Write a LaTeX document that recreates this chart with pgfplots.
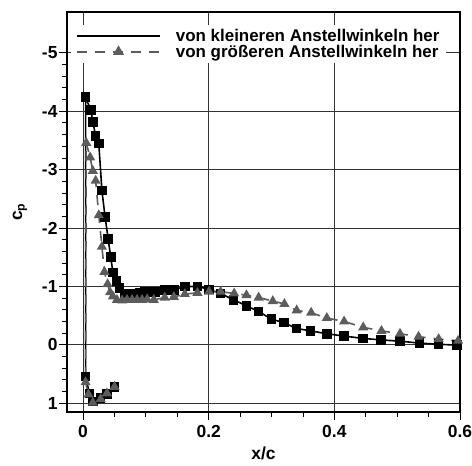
\documentclass[border=0pt]{standalone}
\usepackage{fontspec}
\setmainfont{Liberation Sans}
\usepackage{pgfplots}
\pgfplotsset{compat=1.18}
\definecolor{sergray}{HTML}{5C5C5C}
\begin{document}
\begin{tikzpicture}
\begin{axis}[
  at={(0,0)}, anchor=south west,
  scale only axis, width=393bp, height=400bp,
  xmin=-0.0256, xmax=0.6, ymin=-5.7, ymax=1.15,
  y dir=reverse,
  xtick={0,0.2,0.4,0.6}, xticklabels={0,0.2,0.4,0.6},
  ytick={-5,-4,-3,-2,-1,0,1}, yticklabels={-5,-4,-3,-2,-1,0,1},
  minor x tick num=3, minor y tick num=4,
  tick align=outside, xtick pos=bottom, ytick pos=left,
  major tick length=8bp, minor tick length=5bp,
  tick style={black, line width=0.9bp},
  grid=major, major grid style={black!80, line width=0.9bp},
  axis line style={line width=2bp},
  ticklabel style={font=\fontsize{17.5}{20}\selectfont\bfseries},
  xticklabel style={yshift=-2bp},
  yticklabel style={xshift=2bp},
  xlabel={\fontsize{17.5}{20}\selectfont\bfseries x/c},
  ylabel={\fontsize{17.5}{20}\selectfont\bfseries c\textsubscript{p}},
  xlabel style={yshift=-2bp},
  ylabel style={yshift=8bp},
  legend style={at={(0.01,0.968)}, anchor=north west, draw=none, fill=white,
    font=\fontsize{17}{20}\selectfont\bfseries, inner xsep=5bp, inner ysep=3bp,
    column sep=13bp, nodes={inner ysep=1bp}},
  legend cell align=left,
  legend image code/.code={%
    \draw[mark repeat=2,mark phase=2,#1] plot coordinates {(0bp,0bp) (41.5bp,0bp) (83bp,0bp)};},
]
\addlegendimage{black, line width=1.8bp}
\addlegendentry{von kleineren Anstellwinkeln her}
\addlegendimage{sergray, line width=1.8bp, dash pattern={on 10bp off 8bp}, mark=triangle*, mark size=4.5bp, mark options={solid}}
\addlegendentry{von größeren Anstellwinkeln her}
\addplot[black, line width=1.6bp, mark=square*, mark size=4bp, forget plot]
coordinates {
(0.050,0.72) (0.038,0.84) (0.028,0.91) (0.0155,0.97) (0.010,0.83) (0.004,0.54)
(0.004,-4.24) (0.0123,-4.02) (0.0155,-3.82) (0.020,-3.58) (0.025,-3.45)
(0.030,-2.64) (0.035,-2.19) (0.040,-1.81) (0.044,-1.50) (0.0475,-1.24)
(0.053,-1.09) (0.058,-0.97) (0.067,-0.88) (0.075,-0.88) (0.083,-0.88)
(0.091,-0.89) (0.099,-0.90) (0.107,-0.91) (0.115,-0.91) (0.130,-0.94)
(0.1445,-0.94) (0.162,-1.00) (0.182,-1.00) (0.2005,-0.95) (0.219,-0.88)
(0.2395,-0.77) (0.260,-0.67) (0.2795,-0.57) (0.300,-0.44) (0.3195,-0.38)
(0.340,-0.28) (0.362,-0.24) (0.388,-0.19) (0.4155,-0.15) (0.446,-0.11)
(0.474,-0.085) (0.5045,-0.063) (0.5355,-0.03) (0.566,-0.01) (0.595,0.005)
};
\addplot[sergray, line width=1.6bp, dash pattern={on 10bp off 8bp}, mark=triangle*, mark size=4.3bp,
  mark options={solid}, forget plot]
coordinates {
(0.050,0.72) (0.038,0.83) (0.028,0.93) (0.0155,0.99) (0.0085,0.85) (0.004,0.64)
(0.005,-3.46) (0.0112,-3.21) (0.0155,-2.98) (0.020,-2.81) (0.025,-2.22)
(0.030,-1.68) (0.034,-1.25) (0.039,-1.04) (0.043,-0.90) (0.0475,-0.83)
(0.054,-0.77) (0.062,-0.76) (0.070,-0.77) (0.078,-0.77) (0.086,-0.77) (0.094,-0.77)
(0.102,-0.78) (0.1125,-0.77) (0.130,-0.81) (0.1445,-0.82) (0.162,-0.87)
(0.182,-0.89) (0.2005,-0.91) (0.219,-0.91) (0.2405,-0.88) (0.260,-0.85)
(0.2795,-0.81) (0.302,-0.75) (0.3205,-0.70) (0.340,-0.59) (0.363,-0.55)
(0.388,-0.46) (0.4155,-0.40) (0.446,-0.30) (0.475,-0.24) (0.5045,-0.19)
(0.534,-0.14) (0.566,-0.10) (0.597,-0.07)
};
\end{axis}
\pgfresetboundingbox
\path[use as bounding box] (-67bp,-54bp) rectangle (405bp,412bp);
\end{tikzpicture}
\end{document}
